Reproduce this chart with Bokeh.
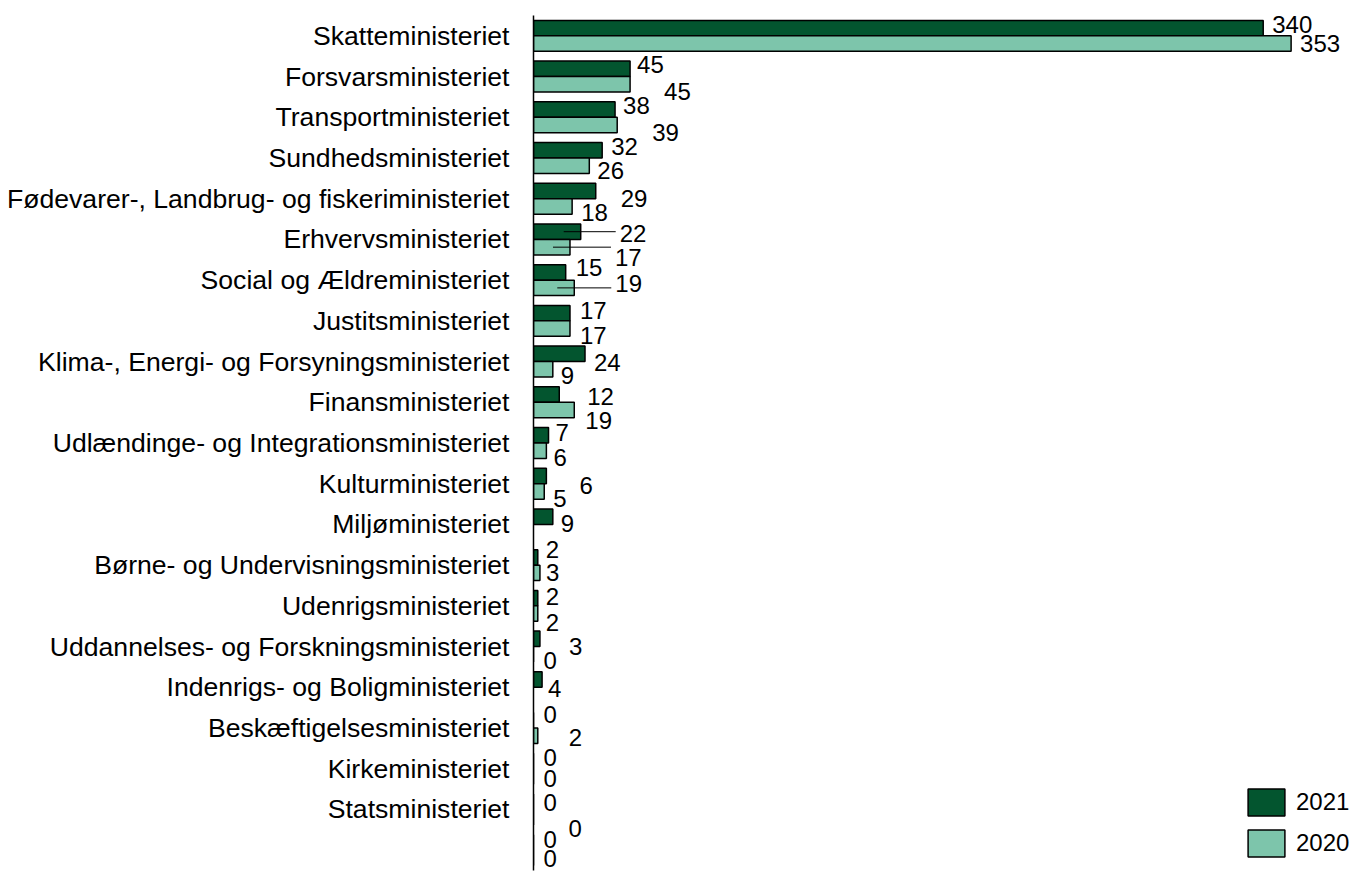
import math
from bokeh.plotting import figure
from bokeh.models import ColumnDataSource, FactorRange
from bokeh.transform import dodge
from bokeh.core.properties import value
from bokeh.embed import file_html
from bokeh.resources import INLINE

categories = [
    "Skatteministeriet", "Forsvarsministeriet", "Transportministeriet",
    "Sundhedsministeriet", "Fødevarer-, Landbrug- og fiskeriministeriet",
    "Erhvervsministeriet", "Social og Ældreministeriet", "Justitsministeriet",
    "Klima-, Energi- og Forsyningsministeriet", "Finansministeriet",
    "Udlændinge- og Integrationsministeriet", "Kulturministeriet",
    "Miljøministeriet", "Børne- og Undervisningsministeriet",
    "Udenrigsministeriet", "Uddannelses- og Forskningsministeriet",
    "Indenrigs- og Boligministeriet", "Beskæftigelsesministeriet",
    "Kirkeministeriet", "Statsministeriet", " ",
]
v2021 = [340, 45, 38, 32, 29, 22, 15, 17, 24, 12, 7, 6, 9, 2, 2, 3, 4, 0, 0, 0, 0]
v2020 = [353, 45, 39, 26, 18, 17, 19, 17, 9, 19, 6, 5, float("nan"), 3, 2, 0,
         float("nan"), 2, 0, 0, 0]
series = ["2021", "2020"]

# label nudges (pixels) mimicking the repelled labels of the original
dx21 = [9, 7, 8, 9, 25, 39, 10, 10, 9, 28, 7, 33, 8, 8, 8, 29, 6, 10, 10, 10, 10]
dy21 = [-4, -4, -4, -4, 8, 2, -5, -3, 9, 2, -3, 10, 7, -8, -2, 8, 9, -6, -3, 1, -3]
dx20 = [9, 34, 35, 8, 9, 45, 41, 10, 8, 11, 7, 9, 0, 6, 8, 10, 0, 31, 10, 35, 10]
dy20 = [0, 7, 7, 5, 6, 10, -4, 7, 6, 10, 7, 7, 0, 0, 9, 6, 0, 2, 2, 11, 1]
leaders21 = [5]
leaders20 = [5, 6]

DARK = "#03552F"
LIGHT = "#7DC5AB"
FONT = "Liberation Sans"

X_END = 383
FRAME_W = 822
scale = FRAME_W / X_END


def lab(v):
    return "" if (isinstance(v, float) and math.isnan(v)) else str(int(v))


src = ColumnDataSource(dict(
    cat=categories, v2021=v2021, v2020=v2020,
    t2021=[lab(v) for v in v2021], t2020=[lab(v) for v in v2020],
    dx21=dx21, dy21=dy21, dx20=dx20, dy20=dy20,
))

p = figure(
    y_range=FactorRange(factors=categories[::-1], range_padding=0),
    x_range=(0, X_END),
    width=1355, height=874,
    min_border_left=533, min_border_right=0, min_border_top=15, min_border_bottom=4,
    x_axis_location=None,
    output_backend="svg", toolbar_location=None,
)
p.outline_line_color = None
p.grid.visible = False
p.background_fill_color = "white"

OFF = 0.19
H = 0.38
p.hbar(y=dodge("cat", OFF, range=p.y_range), left=0, right="v2021", height=H,
       source=src, fill_color=DARK, line_color="black", line_width=1.5,
       legend_label=series[0])
p.hbar(y=dodge("cat", -OFF, range=p.y_range), left=0, right="v2020", height=H,
       source=src, fill_color=LIGHT, line_color="black", line_width=1.5,
       legend_label=series[1])


# leader lines
def leader_src(vals, dxs, idxs):
    return ColumnDataSource(dict(
        cat=[categories[i] for i in idxs],
        x0=[vals[i] - 17 / scale for i in idxs],
        x1=[vals[i] + (dxs[i] - 4) / scale for i in idxs],
    ))


ls21 = leader_src(v2021, dx21, leaders21)
ls20 = leader_src(v2020, dx20, leaders20)
p.segment(x0="x0", x1="x1", y0=dodge("cat", OFF, range=p.y_range),
          y1=dodge("cat", OFF, range=p.y_range), source=ls21,
          line_color="black", line_width=1)
p.segment(x0="x0", x1="x1", y0=dodge("cat", -OFF, range=p.y_range),
          y1=dodge("cat", -OFF, range=p.y_range), source=ls20,
          line_color="black", line_width=1)

p.text(x="v2021", y=dodge("cat", OFF, range=p.y_range), text="t2021",
       x_offset="dx21", y_offset="dy21", source=src,
       text_font=value(FONT), text_font_size="24px", text_color="black",
       text_align="left", text_baseline="middle")
p.text(x="v2020", y=dodge("cat", -OFF, range=p.y_range), text="t2020",
       x_offset="dx20", y_offset="dy20", source=src,
       text_font=value(FONT), text_font_size="24px", text_color="black",
       text_align="left", text_baseline="middle")

ax = p.yaxis[0]
ax.major_tick_line_color = None
ax.minor_tick_line_color = None
ax.axis_line_color = "black"
ax.axis_line_width = 1.5
ax.major_label_standoff = 18
ax.major_label_text_font = FONT
ax.major_label_text_font_size = "26.6px"
ax.major_label_text_color = "black"

lg = p.legend[0]
lg.location = (710, 10)
lg.padding = 0
lg.margin = 0
lg.spacing = 7
lg.glyph_width = 46
lg.glyph_height = 34
lg.label_standoff = 7
lg.label_text_font = FONT
lg.label_text_font_size = "24px"
lg.label_text_color = "black"
lg.label_text_baseline = "middle"
lg.border_line_color = None
lg.background_fill_alpha = 0

open("out.html", "w").write(file_html(p, INLINE))
